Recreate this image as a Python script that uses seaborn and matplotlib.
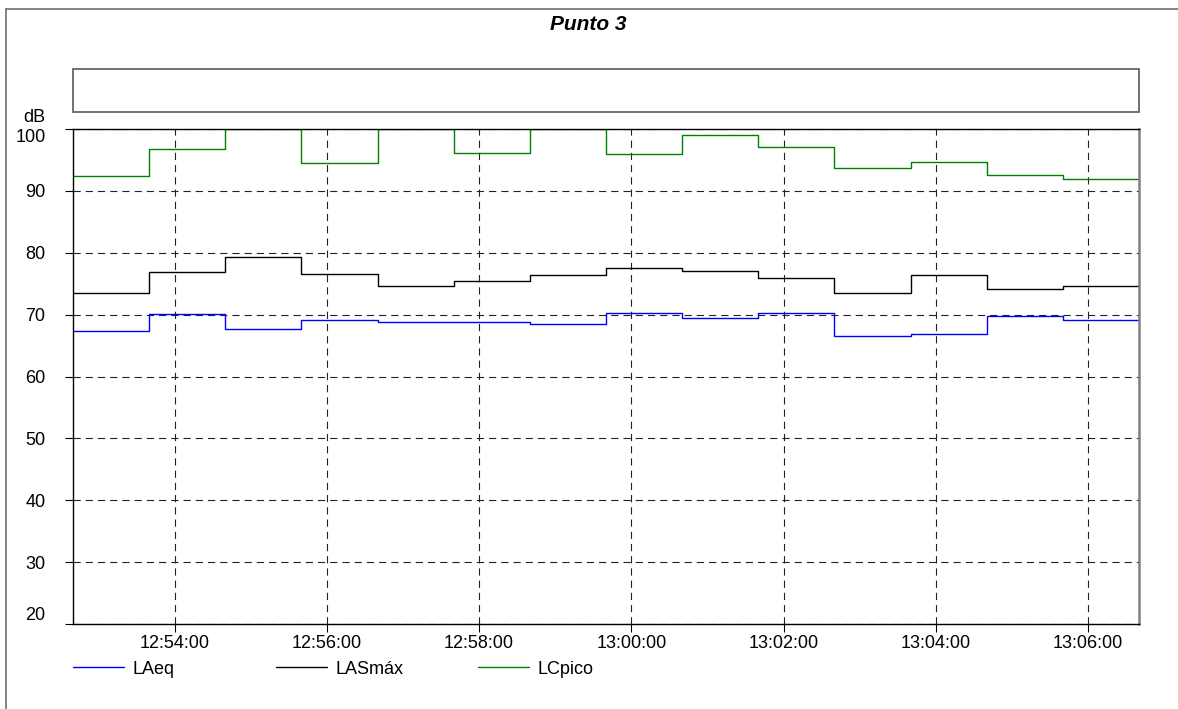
import numpy as np
import pandas as pd
import matplotlib
matplotlib.use("Agg")
import matplotlib.pyplot as plt
import matplotlib.dates as mdates
from matplotlib.lines import Line2D
from matplotlib.patches import Rectangle
import seaborn as sns

# ── Data ────────────────────────────────────────────────────────────────
start_times = pd.date_range("2024-01-01 12:52:40", periods=14, freq="1min")
end_time = pd.Timestamp("2024-01-01 13:06:40")

laeq = [67.4, 70.1, 67.7, 69.2, 68.8, 68.8, 68.5, 70.3, 69.5, 70.3, 66.6, 66.9, 69.8, 69.2]
lasmax = [73.5, 76.9, 79.3, 76.5, 74.7, 75.5, 76.4, 77.6, 77.1, 75.9, 73.5, 76.4, 74.2, 74.7]
lcpico = [92.4, 96.7, 100.0, 94.5, 100.0, 96.1, 100.0, 95.9, 99.0, 97.1, 93.7, 94.7, 92.6, 92.0]

series_names = ["LAeq", "LASmáx", "LCpico"]
series_colors = ["#0000ff", "#000000", "#008000"]
y_ticks = [20, 30, 40, 50, 60, 70, 80, 90, 100]

# ── Long-form table (extra end point so the last step is drawn) ─────────
times = list(start_times) + [end_time]
frames = []
for name, vals in zip(series_names, [laeq, lasmax, lcpico]):
    frames.append(pd.DataFrame({"time": times, "dB": vals + [vals[-1]], "serie": name}))
df = pd.concat(frames, ignore_index=True)

sns.set_theme(style="white")
plt.rcParams["font.family"] = ["Liberation Sans", "DejaVu Sans"]
plt.rcParams["font.size"] = 13
plt.rcParams["text.color"] = "black"

W, H = 1178, 709
fig = plt.figure(figsize=(W / 100, H / 100), dpi=100)
ax = fig.add_axes([73 / W, 1 - 624 / H, (1139 - 73) / W, (624 - 129) / H])

sns.lineplot(data=df, x="time", y="dB", hue="serie", hue_order=series_names,
             palette=series_colors, drawstyle="steps-post", linewidth=1.0,
             legend=False, ax=ax)

ax.set_xlim(start_times[0], end_time)
ax.set_ylim(20, 100)
ax.set_yticks(y_ticks)
ax.xaxis.set_major_locator(mdates.MinuteLocator(byminute=range(0, 60, 2)))
ax.xaxis.set_major_formatter(mdates.DateFormatter("%H:%M:%S"))
ax.set_xlabel("")
ax.set_ylabel("")

ax.grid(True, color="#222222", linewidth=0.8, linestyle=(0, (6.5, 4.5)))
ax.tick_params(axis="both", direction="out", length=5.8, width=0.8, color="black",
               labelsize=13, labelcolor="black", left=True, bottom=True)
ax.tick_params(axis="y", pad=14)
ax.tick_params(axis="x", pad=2)

fig.canvas.draw()
ylabels = ax.get_yticklabels()
ylabels[0].set_va("bottom")
ylabels[-1].set_va("top")

for side in ["left", "top", "bottom"]:
    ax.spines[side].set_color("black")
    ax.spines[side].set_linewidth(1.0)
ax.spines["right"].set_color("#808080")
ax.spines["right"].set_linewidth(1.8)

# title, empty box, unit label
fig.text(588 / W, 1 - 24 / H, "Punto 3", ha="center", va="center",
         fontsize=15, fontweight="bold", fontstyle="italic", color="black")
fig.add_artist(Rectangle((73 / W, 1 - 112 / H), (1139 - 73) / W, 43 / H,
                         transform=fig.transFigure, fill=False,
                         edgecolor="#666666", linewidth=1.3))
fig.text(45 / W, 1 - 118 / H, "dB", ha="right", va="center", fontsize=13, color="black")

# outer frame (left and top edges visible)
fig.add_artist(Line2D([6 / W, 6 / W], [0, 1 - 9 / H], transform=fig.transFigure,
                      color="#707070", linewidth=1.2))
fig.add_artist(Line2D([6 / W, 1], [1 - 9 / H, 1 - 9 / H], transform=fig.transFigure,
                      color="#707070", linewidth=1.2))

# legend entries at fixed columns
for i, (name, col) in enumerate(zip(series_names, series_colors)):
    x0 = (73 + 202.5 * i) / W
    leg = fig.legend(handles=[Line2D([], [], color=col, linewidth=1.0)], labels=[name],
                     loc="center left", bbox_to_anchor=(x0, 1 - 669 / H), frameon=False,
                     fontsize=13, handlelength=2.85, handletextpad=0.45, borderpad=0,
                     borderaxespad=0)
    for t in leg.get_texts():
        t.set_color("black")

fig.savefig("out.png", dpi=100)
